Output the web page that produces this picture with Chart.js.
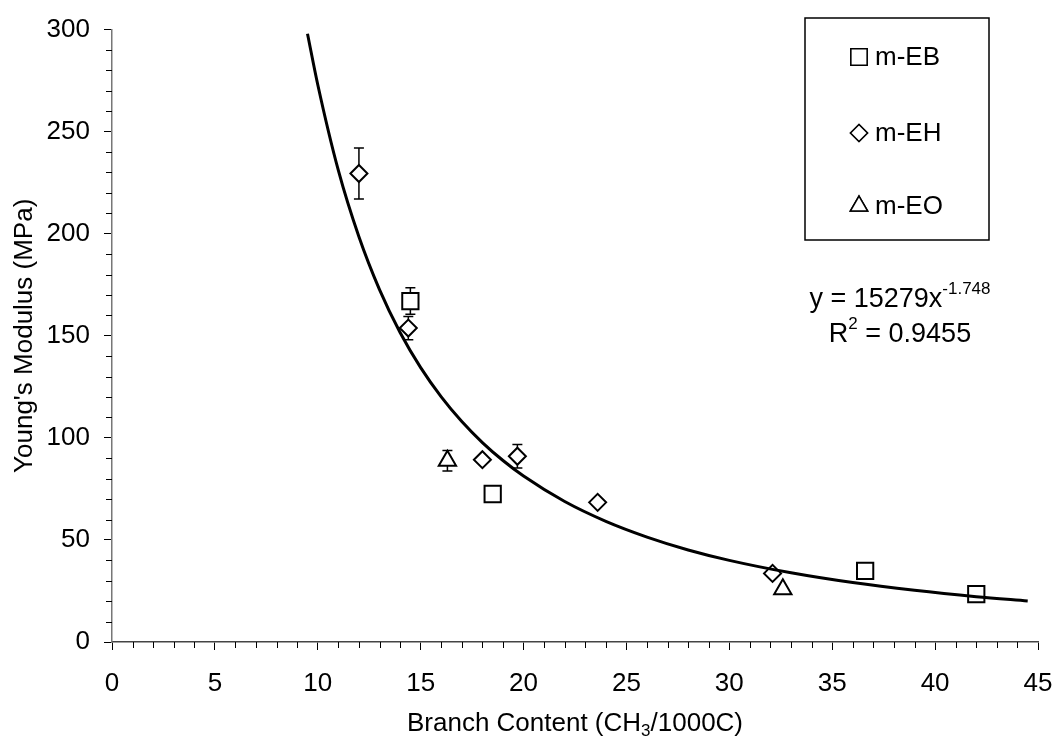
<!DOCTYPE html>
<html>
<head>
<meta charset="utf-8">
<script src="https://cdn.jsdelivr.net/npm/chart.js@4/dist/chart.umd.min.js"></script>
<style>
  html, body { margin: 0; padding: 0; background: #fff; }
  #wrap { width: 1055px; height: 745px; }
</style>
</head>
<body>
<div id="wrap"><canvas id="modulusChart" width="1055" height="745"></canvas></div>
<script>
// m-EB, m-EH, m-EO samples: branch content vs Young's modulus
const ebX = [14.5, 18.5, 36.6, 42.0];
const ebY = [167, 72.5, 34.8, 23.5];
const ebErr = [6.5, 0, 0, 0];

const ehX = [12.0, 14.4, 18.0, 19.7, 23.6, 32.1];
const ehY = [229.5, 153.8, 89.3, 91.0, 68.4, 33.6];
const ehErr = [12.5, 5.7, 0, 5.8, 0, 0];

const eoX = [16.3, 32.6];
const eoY = [88.8, 25.8];
const eoErr = [5, 0];

// power trendline, points
const fitX = [9.5, 10, 11, 12, 13, 14, 15, 16, 17, 18, 19, 20, 22, 24, 26, 28, 30, 33, 36, 39, 42, 44.5];
const fitY = [298, 273, 231, 198.5, 172.6, 151.6, 134.4, 120.1, 108, 97.7, 88.9, 81.3, 68.8, 59.1, 51.4, 45.1, 40, 33.9, 29.1, 25.3, 22.2, 20.1];

const xTicks = [0, 5, 10, 15, 20, 25, 30, 35, 40, 45];
const yTicks = [0, 50, 100, 150, 200, 250, 300];

const FONT = 'Liberation Sans, Arial, sans-serif';
const BIG = '26px ' + FONT;
const SMALL = '17px ' + FONT;

function pts(xs, ys) {
  return xs.map((x, i) => ({ x: x, y: ys[i] }));
}

const seriesList = [
  { label: 'm-EB', xs: ebX, ys: ebY, err: ebErr, style: 'rect', r: 11.5 },
  { label: 'm-EH', xs: ehX, ys: ehY, err: ehErr, style: 'rectRot', r: 8.5 },
  { label: 'm-EO', xs: eoX, ys: eoY, err: eoErr, style: 'triangle', r: 10 }
];

// error bars under the markers
const errorBars = {
  id: 'errorBars',
  beforeDatasetsDraw(chart) {
    const { ctx, scales: { x, y } } = chart;
    ctx.save();
    ctx.strokeStyle = '#000';
    ctx.lineWidth = 1.5;
    seriesList.forEach(s => {
      s.xs.forEach((v, i) => {
        const e = s.err[i];
        if (!e) return;
        const px = x.getPixelForValue(v);
        const top = y.getPixelForValue(s.ys[i] + e);
        const bot = y.getPixelForValue(s.ys[i] - e);
        ctx.beginPath();
        ctx.moveTo(px, top); ctx.lineTo(px, bot);
        ctx.moveTo(px - 5, top); ctx.lineTo(px + 5, top);
        ctx.moveTo(px - 5, bot); ctx.lineTo(px + 5, bot);
        ctx.stroke();
      });
    });
    ctx.restore();
  }
};

// draws text pieces in a row, small ones raised or lowered
function drawPieces(ctx, pieces, cx, base) {
  let total = 0;
  pieces.forEach(p => { ctx.font = p.font; p.w = ctx.measureText(p.t).width; total += p.w; });
  let px = cx - total / 2;
  ctx.textAlign = 'left';
  ctx.textBaseline = 'alphabetic';
  pieces.forEach(p => {
    ctx.font = p.font;
    ctx.fillText(p.t, px, base + (p.dy || 0));
    px += p.w;
  });
}

// minor ticks, axis titles, legend box and equation
const decorations = {
  id: 'decorations',
  afterDraw(chart) {
    const { ctx, scales: { x, y } } = chart;
    ctx.save();
    ctx.strokeStyle = '#000';
    ctx.lineWidth = 1;
    ctx.beginPath();
    for (let v = 1; v < 45; v++) {
      if (v % 5 === 0) continue;
      const px = Math.round(x.getPixelForValue(v)) + 0.5;
      ctx.moveTo(px, y.bottom); ctx.lineTo(px, y.bottom + 6);
    }
    for (let v = 10; v < 300; v += 10) {
      if (v % 50 === 0) continue;
      const py = Math.round(y.getPixelForValue(v)) + 0.5;
      ctx.moveTo(x.left, py); ctx.lineTo(x.left - 6, py);
    }
    ctx.stroke();

    ctx.fillStyle = '#000';
    // x title with subscript
    drawPieces(ctx, [
      { t: 'Branch Content (CH', font: BIG },
      { t: '3', font: SMALL, dy: 5 },
      { t: '/1000C)', font: BIG }
    ], (x.left + x.right) / 2, 731);

    // y title
    ctx.save();
    ctx.translate(32, (y.top + y.bottom) / 2);
    ctx.rotate(-Math.PI / 2);
    ctx.font = BIG;
    ctx.textAlign = 'center';
    ctx.textBaseline = 'alphabetic';
    ctx.fillText("Young's Modulus (MPa)", 0, 0);
    ctx.restore();

    // legend box
    ctx.lineWidth = 1.5;
    ctx.strokeRect(805, 18, 184, 222);
    const rowsY = [57, 133, 206];
    seriesList.forEach((s, i) => {
      ctx.fillStyle = '#fff';
      ctx.strokeStyle = '#000';
      ctx.lineWidth = 1.5;
      Chart.helpers.drawPoint(ctx, { pointStyle: s.style, radius: s.r, borderWidth: 1.5 }, 859, rowsY[i]);
      ctx.fill();
      ctx.stroke();
      ctx.fillStyle = '#000';
      ctx.font = BIG;
      ctx.textAlign = 'left';
      ctx.textBaseline = 'middle';
      ctx.fillText(s.label, 875, rowsY[i] + 1);
    });

    // equation
    drawPieces(ctx, [
      { t: 'y = 15279x', font: '27px ' + FONT },
      { t: '-1.748', font: SMALL, dy: -13 }
    ], 900, 307);
    drawPieces(ctx, [
      { t: 'R', font: '27px ' + FONT },
      { t: '2', font: SMALL, dy: -13 },
      { t: ' = 0.9455', font: '27px ' + FONT }
    ], 900, 342);
    ctx.restore();
  }
};

const markerSets = seriesList.map(s => ({
  label: s.label,
  data: pts(s.xs, s.ys),
  pointStyle: s.style,
  pointRadius: s.r,
  pointBorderWidth: 2,
  pointBackgroundColor: '#fff',
  pointBorderColor: '#000',
  showLine: false,
  order: 2
}));

new Chart(document.getElementById('modulusChart'), {
  type: 'scatter',
  data: {
    datasets: [{
      label: 'Power fit',
      data: pts(fitX, fitY),
      showLine: true,
      borderColor: '#000',
      borderWidth: 3,
      pointRadius: 0,
      cubicInterpolationMode: 'monotone',
      order: 1
    }].concat(markerSets)
  },
  options: {
    responsive: false,
    animation: false,
    layout: { padding: { left: 0, right: 0, top: 27, bottom: 0 } },
    plugins: {
      legend: { display: false },
      tooltip: { enabled: false }
    },
    scales: {
      x: {
        type: 'linear',
        min: 0, max: 45,
        afterBuildTicks: scale => { scale.ticks = xTicks.map(v => ({ value: v })); },
        afterFit: scale => {
          scale.height = 103;
          scale.paddingLeft = 0;
          scale.paddingRight = 17;
        },
        border: { color: '#444', width: 1.5 },
        grid: { drawOnChartArea: false, drawTicks: true, tickLength: 8, tickColor: '#000', tickWidth: 1 },
        ticks: { color: '#000', font: { family: FONT, size: 26 }, padding: 18, maxRotation: 0 }
      },
      y: {
        type: 'linear',
        min: 0, max: 300,
        afterBuildTicks: scale => { scale.ticks = yTicks.map(v => ({ value: v })); },
        afterFit: scale => { scale.width = 112; },
        border: { color: '#777', width: 1.5 },
        grid: { drawOnChartArea: false, drawTicks: true, tickLength: 8, tickColor: '#000', tickWidth: 1 },
        ticks: { color: '#000', font: { family: FONT, size: 26 }, padding: 14 }
      }
    }
  },
  plugins: [errorBars, decorations]
});
</script>
</body>
</html>
